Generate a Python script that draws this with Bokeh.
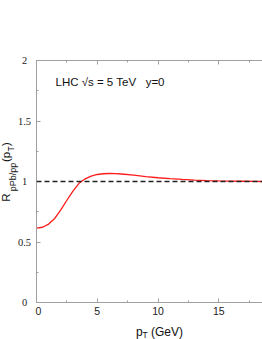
import numpy as np
from bokeh.plotting import figure
from bokeh.layouts import row, column
from bokeh.models import (Range1d, LinearAxis, Label, LabelSet, Span,
                          ColumnDataSource, FixedTicker, CustomJSTickFormatter)
from bokeh.embed import file_html
from bokeh.resources import INLINE

# ---- data ----
pt = [0, 0.5, 1, 1.5, 2, 2.5, 3, 3.5, 4, 4.5, 5, 5.5, 6, 6.5, 7, 8, 9, 10,
      11, 12, 13, 14, 15, 16, 17, 18, 18.6]
ratio = [0.614, 0.622, 0.648, 0.695, 0.765, 0.845, 0.92, 0.985, 1.022, 1.045,
         1.058, 1.064, 1.066, 1.065, 1.062, 1.052, 1.041, 1.031, 1.023,
         1.017, 1.012, 1.008, 1.005, 1.003, 1.002, 1.001, 1.0]
ref_level = 1.0
x_ticks = [0, 5, 10, 15]
x_minor = [2.5, 7.5, 12.5, 17.5]
y_ticks = [0, 0.5, 1, 1.5, 2]
y_minor = [0.25, 0.75, 1.25, 1.75]
y_tick_labels = ["0", "0.5", "1", "1.5", "2"]
annotation = "LHC \u221as = 5 TeV\u00a0\u00a0\u00a0y=0"

X_MAX = 18.6
Y_MAX = 2.0
W, H = 262, 339
LEFT, TOP, BOTTOM_PX = 36, 60, 302
LEFT_W = LEFT - 1      # strip holding y tick labels and y-axis title
MAIN_H = 318           # main figure height, x title strip below it
FONT = "Liberation Sans"
AXIS_COLOR = "#a0a0a0"
TXT = "#111111"


def strip(width, height, x0, y0):
    """Axis-less helper figure whose data units are page pixels."""
    f = figure(width=width, height=height, output_backend="svg",
               toolbar_location=None,
               x_range=Range1d(x0, x0 + width),
               y_range=Range1d(y0 + height, y0),
               min_border=0)
    f.axis.visible = False
    f.grid.visible = False
    f.outline_line_color = None
    return f


# ---- main plot ----
p = figure(width=W - LEFT_W, height=MAIN_H, output_backend="svg",
           toolbar_location=None,
           x_range=Range1d(0, X_MAX), y_range=Range1d(0, Y_MAX),
           min_border_left=LEFT - LEFT_W, min_border_right=0,
           min_border_top=TOP, min_border_bottom=MAIN_H - BOTTOM_PX)
p.outline_line_color = None
p.grid.visible = False

sx = X_MAX / (W - LEFT)
sy = Y_MAX / (BOTTOM_PX - TOP)

for ax in p.xaxis:
    ax.ticker = FixedTicker(ticks=x_ticks, minor_ticks=x_minor)
    ax.formatter = CustomJSTickFormatter(code="return tick.toString()")
    ax.major_label_text_font = FONT
    ax.major_label_text_font_size = "10.5px"
    ax.major_label_text_color = "#222222"
    ax.major_label_standoff = 4
for ax in p.yaxis:
    ax.ticker = FixedTicker(ticks=y_ticks, minor_ticks=y_minor)
    ax.formatter = CustomJSTickFormatter(code="return ''")
    ax.major_label_text_font_size = "0px"
    ax.major_label_standoff = 0

top_axis = LinearAxis(ticker=FixedTicker(ticks=x_ticks, minor_ticks=x_minor),
                      major_label_text_color=None,
                      major_label_text_font_size="1px")
p.add_layout(top_axis, "above")

for ax in list(p.xaxis) + list(p.yaxis):
    ax.axis_line_color = AXIS_COLOR
    ax.major_tick_line_color = AXIS_COLOR
    ax.minor_tick_line_color = AXIS_COLOR
    ax.major_tick_in = 4
    ax.major_tick_out = 0
    ax.minor_tick_in = 2
    ax.minor_tick_out = 0

p.add_layout(Span(location=ref_level, dimension="width", line_color="#222222",
                  line_width=1.3, line_dash="5 3"))
p.line(pt, ratio, line_color="#ff1a1a", line_width=1.3)

p.add_layout(Label(x=(55 - LEFT) * sx, y=(BOTTOM_PX - 81) * sy,
                   text=annotation, text_font=FONT, text_font_size="11.5px",
                   text_baseline="middle", text_align="left",
                   text_color=TXT))

# ---- left strip: y tick labels and y-axis title ----
left = strip(LEFT_W, H, 0, 0)
tick_py = [BOTTOM_PX - v / sy for v in y_ticks]
left.add_layout(LabelSet(
    x="x", y="y", text="t",
    source=ColumnDataSource(dict(x=[24] * len(y_ticks), y=tick_py,
                                 t=y_tick_labels)),
    text_align="center", text_baseline="middle", text_font=FONT,
    text_font_size="10.5px", text_color="#222222"))

ang = np.pi / 2
# (text, centre x, centre y, size) -- rotated, anchored at their centres
for t, xx, yy, fs in [("R", 5.5, 197, "11.5px"),
                      ("pPb/pp", 12, 176.5, "9px"),
                      ("(p", 5.5, 156.5, "11.5px"),
                      ("T", 10, 148.5, "8.5px"),
                      (")", 5.5, 143.5, "11.5px")]:
    left.add_layout(Label(x=xx, y=yy, text=t, angle=ang, text_font=FONT,
                          text_font_size=fs, text_baseline="middle",
                          text_align="center", text_color=TXT))

# ---- x-axis title strip (bottom) ----
bottom = strip(W - LEFT_W, H - MAIN_H, LEFT_W, MAIN_H)
for t, xx, yy, fs in [("p", 135, 331, "12px"), ("T", 141.5, 334, "8.5px"),
                      ("(GeV)", 150, 331, "12px")]:
    bottom.add_layout(Label(x=xx, y=yy, text=t, text_font=FONT,
                            text_font_size=fs, text_baseline="alphabetic",
                            text_color=TXT))

layout = row(left, column(p, bottom, spacing=0), spacing=0)
open("out.html", "w").write(file_html(layout, INLINE))
